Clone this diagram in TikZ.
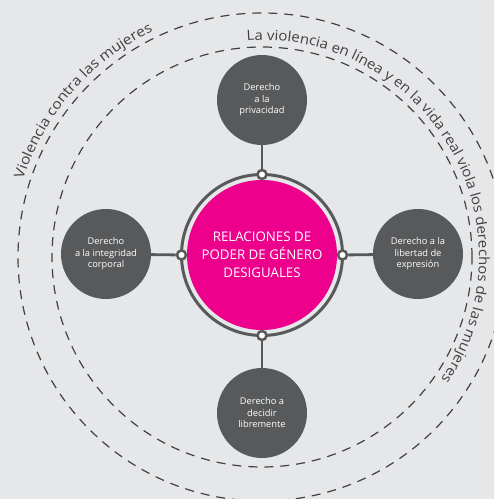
\documentclass[tikz,border=0pt]{standalone}
\usepackage{fontspec}
\setmainfont{Open Sans}
\newfontfamily\arcfont[FakeStretch=1.11]{Open Sans}
\newfontfamily\arcfontb[FakeStretch=1.07]{Open Sans}
\usetikzlibrary{decorations.text,calc}
\definecolor{bg}{HTML}{E6E7E8}
\definecolor{dg}{HTML}{58595B}
\definecolor{mag}{HTML}{EC008C}
\definecolor{tx}{HTML}{414042}
\begin{document}
\begin{tikzpicture}[x=1pt,y=1pt,
  sat/.style={circle, fill=dg, minimum size=90pt, inner sep=0pt, text=white,
    font=\fontsize{9.3}{11.5}\selectfont, align=center},
  dashring/.style={draw=tx, line width=1.2pt, dash pattern=on 9pt off 7pt},
  conn/.style={draw=dg, line width=2.8pt},
  knob/.style={circle, draw=dg, fill=white, line width=2.5pt, minimum size=9pt, inner sep=0pt},
]
\fill[bg] (0,0) rectangle (494,499);
\useasboundingbox (0,0) rectangle (494,499);
\coordinate (C) at (262,244);
% dashed rings
\draw[dashring] (262,242) circle[radius=244];
\draw[dashring] (262,242) circle[radius=210];
% texts along rings
\path[shift={(262,242)}, decorate, decoration={text along path, text color=tx,
  text={|\arcfont\fontsize{14}{14}\selectfont|Violencia contra las mujeres}, text align=left}]
  (162:251) arc[start angle=162, end angle=80, radius=251];
\path[shift={(262,242)}, decorate, decoration={text along path, text color=tx,
  text={|\arcfontb\fontsize{14}{14}\selectfont|La violencia en línea y en la vida real viola los derechos de las mujeres}, text align=left}]
  (94:217) arc[start angle=94, end angle=-80, radius=217];
% centre
\draw[dg, line width=3pt] (C) circle[radius=80.5];
\node[circle, fill=mag, minimum size=150pt, inner sep=0pt, text=white, align=center,
  font=\fontsize{13.3}{18}\selectfont] (core) at (C) {RELACIONES DE\\PODER DE GÉNERO\\DESIGUALES};
% satellites
\node[sat] (top) at (262,399) {Derecho\\a la\\privacidad};
\node[sat] (right) at (418,245) {Derecho a la\\libertad de\\expresión};
\node[sat] (bottom) at (262,86) {Derecho a\\decidir\\libremente};
\node[sat] (left) at (106,245) {Derecho\\a la integridad\\corporal};
% knobs
\node[knob] (ktop) at ($(C)+(90:80.5)$) {};
\node[knob] (kright) at ($(C)+(0:80.5)$) {};
\node[knob] (kbottom) at ($(C)+(-90:80.5)$) {};
\node[knob] (kleft) at ($(C)+(180:80.5)$) {};
% connectors
\draw[conn] (top) -- (ktop);
\draw[conn] (right) -- (kright);
\draw[conn] (bottom) -- (kbottom);
\draw[conn] (left) -- (kleft);
\end{tikzpicture}
\end{document}
